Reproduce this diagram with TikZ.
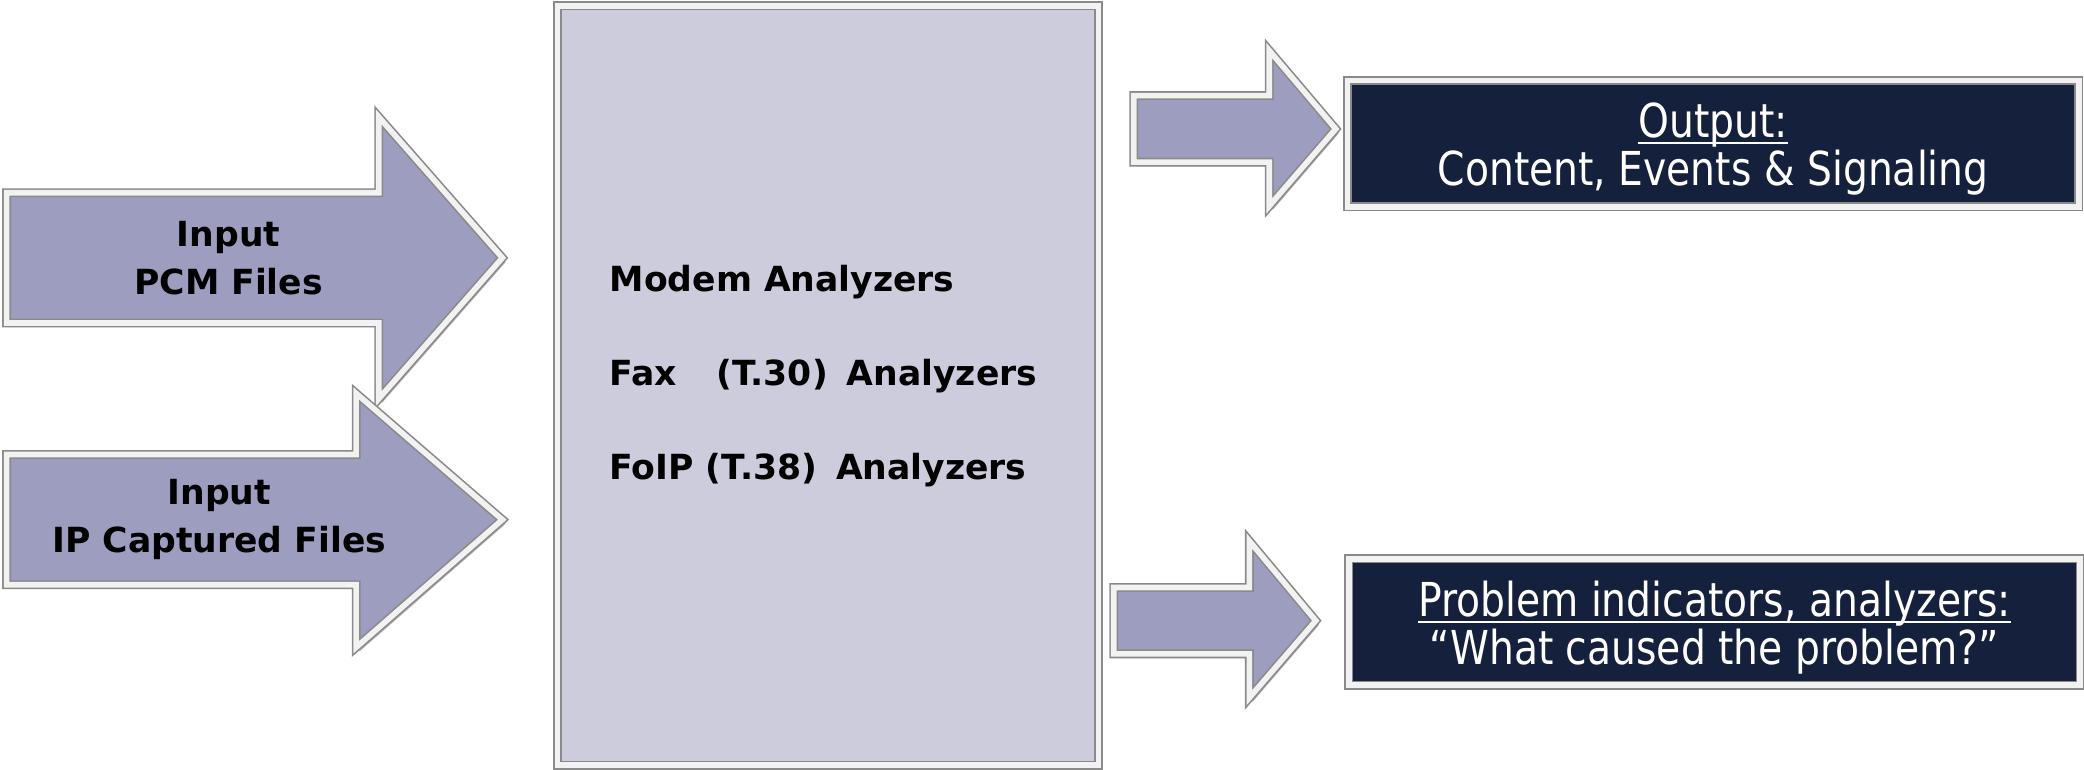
\documentclass[tikz,border=0pt]{standalone}
\usepackage{fontspec}
\setmainfont{DejaVu Sans}
\usepackage{graphicx}
\usetikzlibrary{shadows}
\definecolor{arrowfill}{HTML}{9D9DBF}
\definecolor{boxfill}{HTML}{CDCCDC}
\definecolor{navy}{HTML}{15203D}
\definecolor{rim}{HTML}{8A8A8A}
\definecolor{bevel}{HTML}{F2F2F2}
\newsavebox{\lowlinebox}
\newcommand{\lowline}[1]{\sbox{\lowlinebox}{#1}\rlap{\rule[-1.4pt]{\wd\lowlinebox}{0.4pt}}\usebox{\lowlinebox}}

\begin{document}
\begin{tikzpicture}[x=0.01cm, y=-0.01cm,
    bevelled/.style={draw=rim, line width=0.35pt, double=bevel, double distance=1.2pt,
      drop shadow={shadow xshift=0.7pt, shadow yshift=-0.9pt, opacity=0.3, fill=black}},
    blockarrow/.style={bevelled, fill=arrowfill, line join=miter},
    intext/.style={align=center, font=\fontsize{7.4}{10.2}\selectfont\bfseries},
    listtext/.style={anchor=west, inner sep=0pt, font=\fontsize{7.4}{9}\selectfont\bfseries},
    resultbox/.style={bevelled, fill=navy, minimum width=5.5cm, minimum height=0.95cm, inner sep=0pt},
    resulttext/.style={text=white, align=center, inner sep=0pt, yshift=-1.2pt, font=\fontsize{10}{10.2}\selectfont}]
  \useasboundingbox (0,0) rectangle (1568,579);
  % input arrows
  \draw [blockarrow] (5,145) -- (285,145) -- (285,88) -- (378,194) -- (285,300) -- (285,243) -- (5,243) -- cycle;
  \draw [blockarrow] (5,342) -- (268,342) -- (268,296) -- (378,391) -- (268,487) -- (268,440) -- (5,440) -- cycle;
  \node [intext] (pcm) at (172,194) {Input\\PCM Files};
  \node [intext] (ipcap) at (165,391) {Input\\IP Captured Files};
  % analyzer block
  \node [bevelled, fill=boxfill, minimum width=4.07cm, minimum height=5.71cm, inner sep=0pt] (engine) at (623,290) {};
  \node [listtext] (modem) at (458,212) {Modem Analyzers};
  \node [listtext] (fax) at (458,283) {Fax\hspace{0.8em} (T.30)\hspace{0.2em} Analyzers};
  \node [listtext] (foip) at (458,354) {FoIP (T.38)\hspace{0.2em} Analyzers};
  % output arrows
  \draw [blockarrow] (853,72) -- (955,72) -- (955,38) -- (1005,97) -- (955,155) -- (955,122) -- (853,122) -- cycle;
  \draw [blockarrow] (838,442) -- (940,442) -- (940,407) -- (990,467) -- (940,525) -- (940,492) -- (838,492) -- cycle;
  % results
  \node [resultbox] (output) at (1289,108) {};
  \node [resulttext] (outtext) at (output.center) {\scalebox{0.84}[1]{\lowline{Output:}}\\\scalebox{0.84}[1]{Content, Events \& Signaling}};
  \node [resultbox] (problems) at (1290,468) {};
  \node [resulttext] (probtext) at (problems.center) {\scalebox{0.84}[1]{\lowline{Problem indicators, analyzers:}}\\\scalebox{0.84}[1]{“What caused the problem?”}};
\end{tikzpicture}
\end{document}
